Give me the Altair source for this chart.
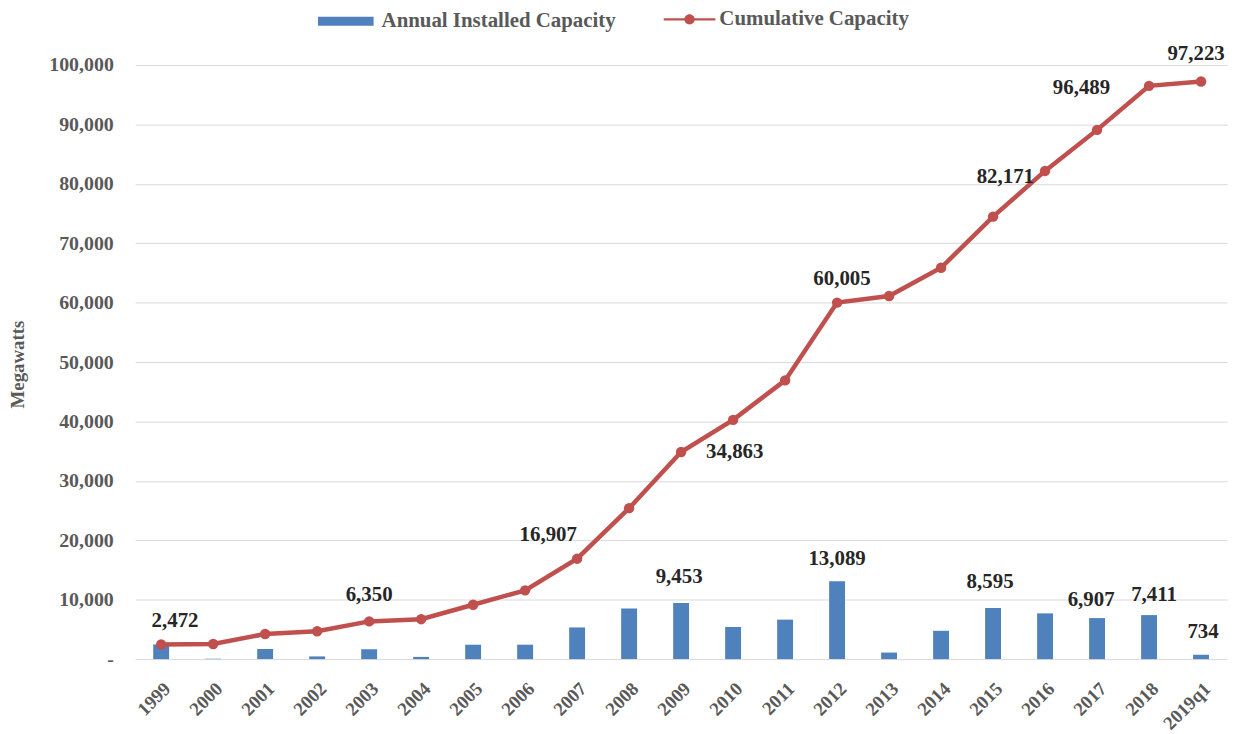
import altair as alt
import pandas as pd

years = ["1999", "2000", "2001", "2002", "2003", "2004", "2005", "2006", "2007",
         "2008", "2009", "2010", "2011", "2012", "2013", "2014", "2015", "2016",
         "2017", "2018", "2019q1"]
annual = [2472, 67, 1693, 455, 1663, 373, 2424, 2428, 5332, 8503, 9453, 5404,
          6649, 13089, 1105, 4767, 8595, 7699, 6907, 7411, 734]
cumulative = [2472, 2539, 4232, 4687, 6350, 6723, 9147, 11575, 16907, 25410,
              34863, 40267, 46916, 60005, 61110, 65877, 74472, 82171, 89078,
              96489, 97223]
y_ticks = [0, 10000, 20000, 30000, 40000, 50000, 60000, 70000, 80000, 90000, 100000]
cum_label_years = ["1999", "2003", "2007", "2009", "2012", "2016", "2018", "2019q1"]
bar_label_years = ["2009", "2012", "2015", "2017", "2018", "2019q1"]

# label placement (style)
cum_offsets = {"1999": (14, -24), "2003": (0, -27), "2007": (-29, -24), "2009": (54, 0),
               "2012": (5, -24), "2016": (-40, 6), "2018": (-68, 2), "2019q1": (-5, -28)}
bar_offsets = {"2009": (-2, -26), "2012": (0, -22), "2015": (-3, -26), "2017": (-6, -18),
               "2018": (5, -20), "2019q1": (2, -23)}

FONT = "Liberation Serif"
GRAY = "#595959"
DARK = "#262626"
BLUE = "#4F81BD"
RED = "#C0504D"

df = pd.DataFrame({"Year": years, "Annual": annual, "Cumulative": cumulative})

base = alt.Chart(df).transform_calculate(
    s1="'Annual Installed Capacity'", s2="'Cumulative Capacity'"
)

x_axis = alt.Axis(title=None, labelAngle=-45, labelFont=FONT, labelFontSize=19,
                  labelFontWeight="bold", labelColor=GRAY, ticks=False, domain=False,
                  labelPadding=20)
x_scale = alt.Scale(paddingInner=0, paddingOuter=0)
y_scale = alt.Scale(domain=[0, 100000], nice=False)
y_axis = alt.Axis(title="Megawatts", values=y_ticks,
                  labelExpr="datum.value == 0 ? '-\u00a0\u00a0\u00a0' : format(datum.value, ',')",
                  grid=True, gridColor="#D9D9D9", gridWidth=1, ticks=False,
                  domain=False, labelPadding=22, labelFont=FONT, labelFontSize=20,
                  labelFontWeight="bold", labelColor=GRAY,
                  titleFont=FONT, titleFontSize=19, titleFontWeight="bold",
                  titleColor=GRAY, titleAngle=270, titleX=-118, titleY=301,
                  titleAlign="center", titleBaseline="middle")


def xe():
    return alt.X("Year:N", sort=years, scale=x_scale, axis=x_axis)


def ye(field):
    return alt.Y(field, scale=y_scale, axis=y_axis, title="Megawatts")


bars = base.mark_bar(size=16).encode(
    x=xe(),
    y=ye("Annual:Q"),
    fill=alt.Fill("s1:N", scale=alt.Scale(domain=["Annual Installed Capacity"], range=[BLUE]),
                  legend=alt.Legend(title=None, orient="none", legendX=184, legendY=-72,
                                    symbolType="M-1,-0.16H1V0.16H-1Z", symbolSize=3136,
                                    symbolStrokeWidth=0, labelFont=FONT, labelFontSize=21,
                                    labelFontWeight="bold", labelColor=GRAY, labelOffset=8,
                                    labelLimit=500)),
)

line = base.mark_line(color=RED, strokeWidth=4.5).encode(
    x=xe(),
    y=ye("Cumulative:Q"),
)

points = base.mark_circle(size=110, opacity=1).encode(
    x=xe(),
    y=ye("Cumulative:Q"),
    fill=alt.Fill("s2:N", scale=alt.Scale(domain=["Cumulative Capacity"], range=[RED]),
                  legend=alt.Legend(title=None, orient="none", legendX=532, legendY=-72,
                                    symbolType="M-1,-0.045H1V0.045H-1Z M0.2,0A0.2,0.2 0 1,1 -0.2,0A0.2,0.2 0 1,1 0.2,0Z",
                                    symbolSize=2704, symbolStrokeWidth=0,
                                    labelFont=FONT, labelFontSize=21,
                                    labelFontWeight="bold", labelColor=GRAY, labelOffset=4,
                                    labelLimit=500)),
)

layers = [bars, line, points]

for yr in cum_label_years:
    dx, dy = cum_offsets[yr]
    layers.append(
        base.transform_filter(alt.datum.Year == yr).mark_text(
            font=FONT, fontSize=21, fontWeight="bold", color=DARK,
            align="center", baseline="middle", dx=dx, dy=dy
        ).encode(
            x=xe(),
            y=ye("Cumulative:Q"),
            text=alt.Text("Cumulative:Q", format=","),
        )
    )

for yr in bar_label_years:
    dx, dy = bar_offsets[yr]
    layers.append(
        base.transform_filter(alt.datum.Year == yr).mark_text(
            font=FONT, fontSize=21, fontWeight="bold", color=DARK,
            align="center", baseline="middle", dx=dx, dy=dy
        ).encode(
            x=xe(),
            y=ye("Annual:Q"),
            text=alt.Text("Annual:Q", format=","),
        )
    )

chart = alt.layer(*layers).resolve_scale(fill="independent").properties(
    width=1099, height=598,
    autosize=alt.AutoSizeParams(type="none"),
    padding={"left": 128, "top": 55, "right": 7, "bottom": 73},
    background="white",
).configure_view(stroke=None)

chart.save("out.html", embed_options={"renderer": "svg", "actions": False})
